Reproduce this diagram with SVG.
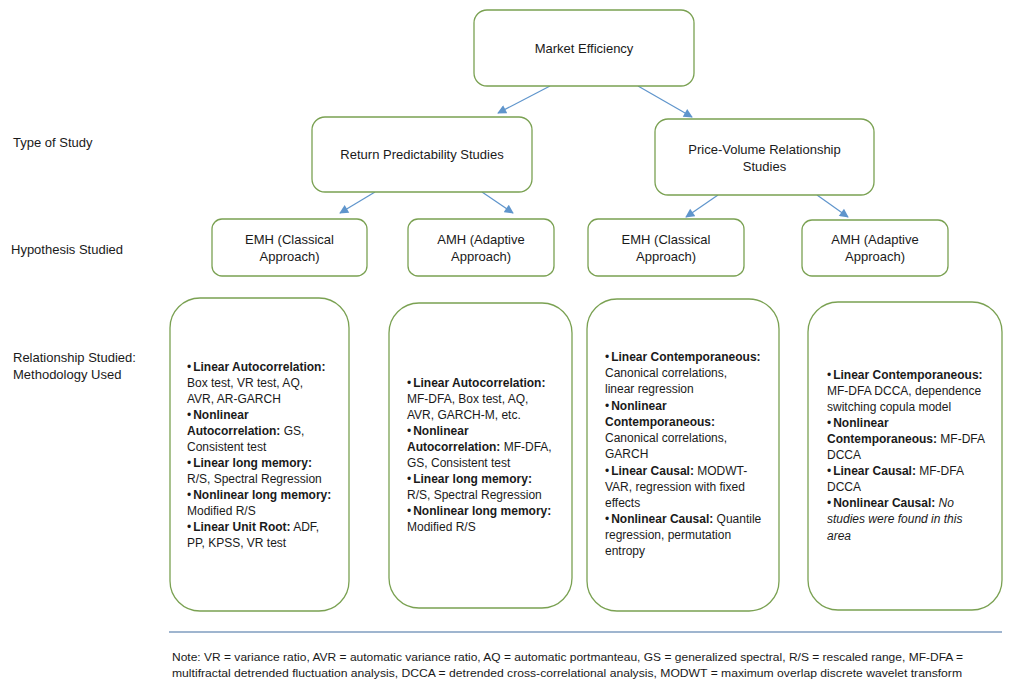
<svg xmlns="http://www.w3.org/2000/svg" width="1013" height="691" viewBox="0 0 1013 691">
<style>
.box{fill:#ffffff;stroke:#7aa152;stroke-width:1.3}
.lbl{font-family:"Liberation Sans",Arial,sans-serif;font-size:13px;fill:#1a1a1a}
.ctr{text-anchor:middle}
.body{font-family:"Liberation Sans",Arial,sans-serif;font-size:12px;fill:#1a1a1a}
.b{font-weight:bold}
.i{font-style:italic}
.note{font-family:"Liberation Sans",Arial,sans-serif;font-size:11px;fill:#1a1a1a}
.conn{stroke:#5f95cc;stroke-width:1.2;fill:none;marker-end:url(#ah)}
</style>
<defs>
<marker id="ah" viewBox="0 0 10 10" refX="9" refY="5" markerWidth="10" markerHeight="9" markerUnits="userSpaceOnUse" orient="auto">
<path d="M0,0 L10,5 L0,10 z" fill="#5f95cc"/>
</marker>
</defs>
<rect width="1013" height="691" fill="#ffffff"/>

<g id="row-labels">
<text class="lbl" x="13" y="147">Type of Study</text>
<text class="lbl" x="11" y="254">Hypothesis Studied</text>
<text class="lbl" x="13" y="362">Relationship Studied:</text>
<text class="lbl" x="13" y="379">Methodology Used</text>
</g>

<g id="connectors">
<line class="conn" x1="550" y1="86" x2="498" y2="113"/>
<line class="conn" x1="638" y1="86" x2="692" y2="117"/>
<line class="conn" x1="375" y1="192" x2="340" y2="213"/>
<line class="conn" x1="482" y1="192" x2="513" y2="213"/>
<line class="conn" x1="718" y1="195" x2="686" y2="217"/>
<line class="conn" x1="817" y1="195" x2="848" y2="217"/>
</g>

<g id="market-efficiency">
<rect class="box" x="474" y="10" width="220" height="76" rx="13"/>
<text class="lbl ctr" x="584" y="53">Market Efficiency</text>
</g>

<g id="return-predictability">
<rect class="box" x="312" y="117" width="220" height="75" rx="13"/>
<text class="lbl ctr" x="422" y="159">Return Predictability Studies</text>
</g>

<g id="price-volume">
<rect class="box" x="655" y="119" width="219" height="76" rx="13"/>
<text class="lbl ctr" x="764.5" y="154">Price-Volume Relationship</text>
<text class="lbl ctr" x="764.5" y="171">Studies</text>
</g>

<g id="emh-1">
<rect class="box" x="212" y="219" width="155" height="57" rx="10"/>
<text class="lbl ctr" x="289.5" y="244">EMH (Classical</text>
<text class="lbl ctr" x="289.5" y="261">Approach)</text>
</g>

<g id="amh-1">
<rect class="box" x="408" y="219" width="146" height="57" rx="10"/>
<text class="lbl ctr" x="481" y="244">AMH (Adaptive</text>
<text class="lbl ctr" x="481" y="261">Approach)</text>
</g>

<g id="emh-2">
<rect class="box" x="588" y="219" width="156" height="57" rx="10"/>
<text class="lbl ctr" x="666" y="244">EMH (Classical</text>
<text class="lbl ctr" x="666" y="261">Approach)</text>
</g>

<g id="amh-2">
<rect class="box" x="802" y="220" width="146" height="56" rx="10"/>
<text class="lbl ctr" x="875" y="244">AMH (Adaptive</text>
<text class="lbl ctr" x="875" y="261">Approach)</text>
</g>

<g id="methods-1">
<rect class="box" x="170" y="298" width="179" height="313" rx="30"/>
<text class="body" x="187" y="371">•<tspan class="b" dx="2">Linear Autocorrelation:</tspan></text>
<text class="body" x="187" y="387">Box test, VR test, AQ,</text>
<text class="body" x="187" y="403">AVR,  AR-GARCH</text>
<text class="body" x="187" y="419">•<tspan class="b" dx="2">Nonlinear</tspan></text>
<text class="body" x="187" y="435"><tspan class="b">Autocorrelation:</tspan> GS,</text>
<text class="body" x="187" y="451">Consistent test</text>
<text class="body" x="187" y="467">•<tspan class="b" dx="2">Linear long memory:</tspan></text>
<text class="body" x="187" y="483">R/S, Spectral Regression</text>
<text class="body" x="187" y="499">•<tspan class="b" dx="2">Nonlinear long memory:</tspan></text>
<text class="body" x="187" y="515">Modified R/S</text>
<text class="body" x="187" y="531">•<tspan class="b" dx="2">Linear Unit Root:</tspan> ADF,</text>
<text class="body" x="187" y="547">PP, KPSS, VR test</text>
</g>

<g id="methods-2">
<rect class="box" x="389" y="303" width="183" height="305" rx="30"/>
<text class="body" x="407" y="387">•<tspan class="b" dx="2">Linear Autocorrelation:</tspan></text>
<text class="body" x="407" y="403">MF-DFA,  Box test, AQ,</text>
<text class="body" x="407" y="419">AVR,  GARCH-M,  etc.</text>
<text class="body" x="407" y="435">•<tspan class="b" dx="2">Nonlinear</tspan></text>
<text class="body" x="407" y="451"><tspan class="b">Autocorrelation:</tspan> MF-DFA,</text>
<text class="body" x="407" y="467">GS, Consistent test</text>
<text class="body" x="407" y="483">•<tspan class="b" dx="2">Linear long memory:</tspan></text>
<text class="body" x="407" y="499">R/S, Spectral Regression</text>
<text class="body" x="407" y="515">•<tspan class="b" dx="2">Nonlinear long memory:</tspan></text>
<text class="body" x="407" y="531">Modified R/S</text>
</g>

<g id="methods-3">
<rect class="box" x="587" y="299" width="192" height="312" rx="30"/>
<text class="body" x="605" y="361">•<tspan class="b" dx="2">Linear Contemporaneous:</tspan></text>
<text class="body" x="605" y="377">Canonical correlations,</text>
<text class="body" x="605" y="393">linear regression</text>
<text class="body" x="605" y="410">•<tspan class="b" dx="2">Nonlinear</tspan></text>
<text class="body" x="605" y="426"><tspan class="b">Contemporaneous:</tspan></text>
<text class="body" x="605" y="442">Canonical correlations,</text>
<text class="body" x="605" y="458">GARCH</text>
<text class="body" x="605" y="475">•<tspan class="b" dx="2">Linear Causal:</tspan>  MODWT-</text>
<text class="body" x="605" y="491">VAR,  regression with fixed</text>
<text class="body" x="605" y="507">effects</text>
<text class="body" x="605" y="523">•<tspan class="b" dx="2">Nonlinear  Causal:</tspan>  Quantile</text>
<text class="body" x="605" y="539">regression, permutation</text>
<text class="body" x="605" y="555">entropy</text>
</g>

<g id="methods-4">
<rect class="box" x="808" y="302" width="194" height="308" rx="30"/>
<text class="body" x="827" y="379">•<tspan class="b" dx="2">Linear Contemporaneous:</tspan></text>
<text class="body" x="827" y="395">MF-DFA DCCA,  dependence</text>
<text class="body" x="827" y="411">switching copula model</text>
<text class="body" x="827" y="427">•<tspan class="b" dx="2">Nonlinear</tspan></text>
<text class="body" x="827" y="443"><tspan class="b">Contemporaneous:</tspan> MF-DFA</text>
<text class="body" x="827" y="459">DCCA</text>
<text class="body" x="827" y="475">•<tspan class="b" dx="2">Linear Causal:</tspan> MF-DFA</text>
<text class="body" x="827" y="491">DCCA</text>
<text class="body" x="827" y="507">•<tspan class="b" dx="2">Nonlinear Causal:</tspan> <tspan class="i">No</tspan></text>
<text class="body i" x="827" y="523">studies were found in this</text>
<text class="body i" x="827" y="540">area</text>
</g>

<g id="note">
<line x1="169" y1="632" x2="1002" y2="632" stroke="#7f9cbf" stroke-width="1.5"/>
<text class="note" x="172" y="661" textLength="791" lengthAdjust="spacingAndGlyphs">Note:  VR = variance ratio, AVR = automatic variance ratio, AQ = automatic portmanteau,  GS = generalized spectral, R/S = rescaled range, MF-DFA =</text>
<text class="note" x="172" y="677" textLength="790" lengthAdjust="spacingAndGlyphs">multifractal detrended fluctuation analysis, DCCA = detrended  cross-correlational analysis, MODWT = maximum overlap discrete wavelet transform</text>
</g>
</svg>
